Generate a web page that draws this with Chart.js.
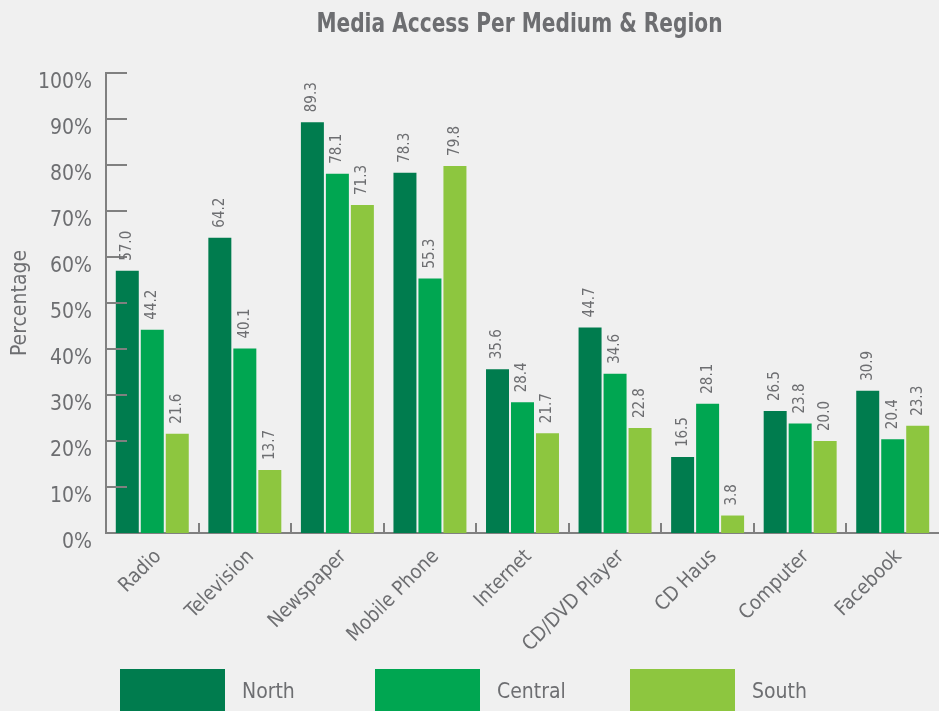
<!DOCTYPE html>
<html>
<head>
<meta charset="utf-8">
<script src="https://cdn.jsdelivr.net/npm/chart.js@4"></script>
<style>
  html, body { margin: 0; padding: 0; background: #f0f0f0; }
  #wrap { width: 939px; height: 711px; }
</style>
</head>
<body>
<div id="wrap"><canvas id="chart"></canvas></div>
<script>
const categories = ['Radio', 'Television', 'Newspaper', 'Mobile Phone', 'Internet', 'CD/DVD Player', 'CD Haus', 'Computer', 'Facebook']
const regions = ['North', 'Central', 'South']
const northValues = [57.0, 64.2, 89.3, 78.3, 35.6, 44.7, 16.5, 26.5, 30.9]
const centralValues = [44.2, 40.1, 78.1, 55.3, 28.4, 34.6, 28.1, 23.8, 20.4]
const southValues = [21.6, 13.7, 71.3, 79.8, 21.7, 22.8, 3.8, 20.0, 23.3]
const regionColors = ['#007c4e', '#00a651', '#8dc63f']

const FONT = '"Liberation Sans Narrow", "DejaVu Sans Condensed", "Arial Narrow", sans-serif'
const TEXT = '#6d6e71'
const AXIS = '#808080'

// title, inner axis ticks, value labels and the legend row
const mediaDecor = {
  id: 'mediaDecor',
  beforeDraw(chart) {
    const { ctx, width, height } = chart
    ctx.save()
    ctx.fillStyle = '#f0f0f0'
    ctx.fillRect(0, 0, width, height)
    ctx.restore()
  },
  afterDatasetsDraw(chart) {
    const { ctx, chartArea, scales: { x, y } } = chart
    ctx.save()

    // ticks pointing into the plot
    ctx.strokeStyle = AXIS
    ctx.lineWidth = 2
    y.ticks.forEach(t => {
      if (t.value === 0) return
      const py = Math.round(y.getPixelForValue(t.value))
      ctx.beginPath()
      ctx.moveTo(chartArea.left, py)
      ctx.lineTo(chartArea.left + 21, py)
      ctx.stroke()
    })
    const step = x.width / categories.length
    for (let i = 1; i < categories.length; i++) {
      const px = Math.round(x.getPixelForValue(i) - step / 2)
      ctx.beginPath()
      ctx.moveTo(px, chartArea.bottom)
      ctx.lineTo(px, chartArea.bottom - 10)
      ctx.stroke()
    }

    // value labels above the bars
    ctx.fillStyle = TEXT
    ctx.font = '15px ' + FONT
    ctx.textAlign = 'left'
    ctx.textBaseline = 'middle'
    chart.data.datasets.forEach((ds, di) => {
      chart.getDatasetMeta(di).data.forEach((bar, i) => {
        ctx.save()
        ctx.translate(bar.x, bar.y - 10)
        ctx.rotate(-Math.PI / 2)
        ctx.fillText(ds.data[i].toFixed(1), 0, 0)
        ctx.restore()
      })
    })

    // title, squeezed to a condensed look
    ctx.save()
    ctx.font = 'bold 27px ' + FONT
    ctx.textAlign = 'center'
    ctx.translate((chartArea.left + chartArea.right) / 2 - 3, 25)
    ctx.scale(0.83, 1)
    ctx.fillText('Media Access Per Medium & Region', 0, 0)
    ctx.restore()

    // legend
    ctx.font = '21px ' + FONT
    ctx.textAlign = 'left'
    chart.data.datasets.forEach((ds, di) => {
      const bx = chartArea.left + 14 + di * 255
      ctx.fillStyle = ds.backgroundColor
      ctx.fillRect(bx, 669, 105, 50)
      ctx.fillStyle = TEXT
      ctx.fillText(ds.label, bx + 122, 693)
    })
    ctx.restore()
  }
}

const seriesValues = [northValues, centralValues, southValues]

new Chart(document.getElementById('chart'), {
  type: 'bar',
  data: {
    labels: categories,
    datasets: regions.map((name, i) => ({
      label: name,
      data: seriesValues[i],
      backgroundColor: regionColors[i],
      categoryPercentage: 0.81,
      barPercentage: 0.92
    }))
  },
  options: {
    responsive: true,
    maintainAspectRatio: false,
    animation: false,
    layout: { padding: { top: 73, right: 0, bottom: 0, left: 0 } },
    plugins: {
      legend: { display: false },
      tooltip: { enabled: false }
    },
    scales: {
      x: {
        offset: true,
        grid: { display: false },
        border: { color: AXIS, width: 2 },
        ticks: {
          color: TEXT,
          font: { family: FONT, size: 20 },
          maxRotation: 45,
          minRotation: 45,
          padding: 4,
          labelOffset: 6
        },
        afterFit(scale) { scale.height = 178 }
      },
      y: {
        min: 0,
        max: 100,
        grid: { display: false },
        border: { color: AXIS, width: 2 },
        ticks: {
          stepSize: 10,
          color: TEXT,
          font: { family: FONT, size: 21 },
          padding: 6,
          labelOffset: 10,
          callback: v => v + '%'
        },
        title: {
          display: true,
          text: 'Percentage',
          color: TEXT,
          font: { family: FONT, size: 21 },
          padding: { top: 8, bottom: 0 }
        },
        afterFit(scale) { scale.width = 106 }
      }
    }
  },
  plugins: [mediaDecor]
})
</script>
</body>
</html>
